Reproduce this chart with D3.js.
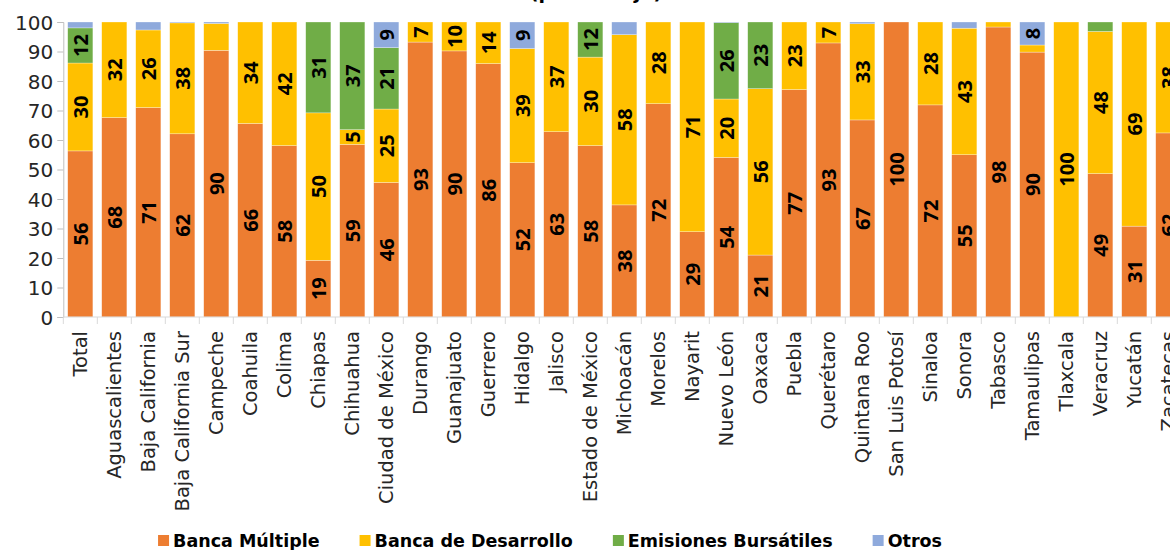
<!doctype html>
<html>
<head>
<meta charset="utf-8">
<title>Fuentes de financiamiento por entidad</title>
<style>
body { margin: 0; background: #fff; }
svg { display: block; }
</style>
</head>
<body>
<div id="chart"></div>
<script src="https://d3js.org/d3.v7.min.js"></script>
<script>
var estados = ["Total", "Aguascalientes", "Baja California", "Baja California Sur", "Campeche",
  "Coahuila", "Colima", "Chiapas", "Chihuahua", "Ciudad de México", "Durango", "Guanajuato",
  "Guerrero", "Hidalgo", "Jalisco", "Estado de México", "Michoacán", "Morelos", "Nayarit",
  "Nuevo León", "Oaxaca", "Puebla", "Querétaro", "Quintana Roo", "San Luis Potosí", "Sinaloa",
  "Sonora", "Tabasco", "Tamaulipas", "Tlaxcala", "Veracruz", "Yucatán", "Zacatecas"];

var series = ["Banca Múltiple", "Banca de Desarrollo", "Emisiones Bursátiles", "Otros"];
var colores = ["#ED7D31", "#FFC000", "#70AD47", "#8FAADC"];

var bancaMultiple   = [56.3, 67.6, 71.0, 62.1, 90.4, 65.6, 58.1, 19.2, 58.5, 45.6, 93.2, 90.2, 85.9, 52.3, 62.8, 58.1, 38.0,
                       72.3, 28.9, 54.1, 21.0, 77.1, 92.9, 66.8, 100, 71.9, 55.0, 98.3, 89.8, 0, 48.6, 30.8, 62.4];
var bancaDesarrollo = [29.8, 32.4, 26.3, 37.6, 9.1, 34.4, 41.9, 50.0, 5.0, 24.9, 6.8, 9.8, 14.1, 38.7, 37.2, 30.0, 57.7,
                       27.7, 71.1, 19.8, 56.4, 22.9, 7.1, 32.6, 0, 28.1, 42.9, 1.7, 2.4, 100, 48.2, 69.2, 37.6];
var emisiones       = [11.9, 0, 0, 0, 0, 0, 0, 30.8, 36.5, 20.8, 0, 0, 0, 0, 0, 11.9, 0,
                       0, 0, 25.9, 22.6, 0, 0, 0, 0, 0, 0, 0, 0, 0, 3.2, 0, 0];
var otros           = [2.0, 0, 2.7, 0.3, 0.5, 0, 0, 0, 0, 8.7, 0, 0, 0, 9.0, 0, 0, 4.3,
                       0, 0, 0.2, 0, 0, 0, 0.6, 0, 0, 2.1, 0, 7.8, 0, 0, 0, 0];

var yTicks = [0, 10, 20, 30, 40, 50, 60, 70, 80, 90, 100];
// etiquetas que no aparecen en el original
var sinEtiqueta = ["Campeche|Banca de Desarrollo"];

var w = 1170;
var h = 550;
var plotLeft = 63.3, plotTop = 22, plotBottom = 317;
var step = 34;

var rows = estados.map(function(e, i) {
  return {estado: e, "Banca Múltiple": bancaMultiple[i], "Banca de Desarrollo": bancaDesarrollo[i],
          "Emisiones Bursátiles": emisiones[i], "Otros": otros[i]};
});

var x = d3.scaleBand().domain(estados)
  .range([plotLeft, plotLeft + step * estados.length])
  .paddingInner(0.26).paddingOuter(0.13);
var y = d3.scaleLinear().domain([0, 100]).range([plotBottom, plotTop]);
var color = d3.scaleOrdinal().domain(series).range(colores);

var svg = d3.select("#chart").append("svg").attr("width", w).attr("height", h);

// titulo (cortado arriba en el original)
svg.append("text").attr("x", 596).attr("y", -1)
  .attr("text-anchor", "middle")
  .style("font-family", "DejaVu Sans").style("font-weight", "bold").style("font-size", "19px")
  .attr("fill", "#000").text("(porcentaje)");

var stacked = d3.stack().keys(series)(rows);

var layers = svg.selectAll("g.layer").data(stacked).enter().append("g")
  .attr("class", "layer").attr("fill", function(d) { return color(d.key); });

layers.selectAll("rect").data(function(d) { return d; }).enter().append("rect")
  .attr("x", function(d) { return x(d.data.estado); })
  .attr("width", x.bandwidth())
  .attr("y", function(d) { return y(d[1]); })
  .attr("height", function(d) { return y(d[0]) - y(d[1]); })
  .attr("stroke", "#fff").attr("stroke-width", 0.5).attr("stroke-opacity", 0.6);

// etiquetas de datos
stacked.forEach(function(s) {
  svg.append("g").selectAll("text")
    .data(s.filter(function(d) {
      var v = d[1] - d[0];
      return Math.round(v) >= 5 && sinEtiqueta.indexOf(d.data.estado + "|" + s.key) < 0;
    }))
    .enter().append("text")
    .attr("transform", function(d) {
      return "translate(" + (x(d.data.estado) + x.bandwidth() / 2) + "," + y((d[0] + d[1]) / 2) + ") rotate(-90)";
    })
    .attr("text-anchor", "middle").attr("dy", "0.36em")
    .style("font-family", "Noto Sans").style("font-weight", "bold").style("font-size", "20px")
    .attr("fill", "#000")
    .text(function(d) { return Math.round(d[1] - d[0]); });
});

// eje y
var yAxis = svg.append("g").attr("transform", "translate(" + plotLeft + ",0)")
  .call(d3.axisLeft(y).tickValues(yTicks).tickSize(6).tickPadding(4));
yAxis.selectAll("path, line").attr("stroke", "#BFBFBF");
yAxis.selectAll("text").style("font-family", "DejaVu Sans").style("font-size", "20px")
  .attr("fill", "#262626").attr("dy", "0.36em");

// eje x: linea y marcas entre categorias
svg.append("line").attr("x1", plotLeft).attr("x2", x.range()[1])
  .attr("y1", plotBottom).attr("y2", plotBottom).attr("stroke", "#D9D9D9");
svg.append("g").selectAll("line").data(d3.range(estados.length + 1)).enter().append("line")
  .attr("x1", function(i) { return x.range()[0] + i * x.step(); })
  .attr("x2", function(i) { return x.range()[0] + i * x.step(); })
  .attr("y1", plotBottom).attr("y2", plotBottom + 7).attr("stroke", "#D9D9D9");

svg.append("g").selectAll("text").data(estados).enter().append("text")
  .attr("transform", function(d) { return "translate(" + (x(d) + x.bandwidth() / 2) + ",331) rotate(-90)"; })
  .attr("text-anchor", "end").attr("dy", "0.35em")
  .style("font-family", "DejaVu Sans").style("font-size", "19.5px")
  .attr("fill", "#262626")
  .text(function(d) { return d; });

// leyenda
var legend = svg.append("g");
var lx = 0;
series.forEach(function(s, i) {
  var item = legend.append("g").attr("transform", "translate(" + lx + ",0)");
  item.append("rect").attr("x", 0).attr("y", -6).attr("width", 11).attr("height", 11).attr("fill", color(s));
  var t = item.append("text").attr("x", 15).attr("dy", "0.36em")
    .style("font-family", "DejaVu Sans").style("font-weight", "bold").style("font-size", "17.5px")
    .attr("fill", "#000").text(s);
  lx += 15 + t.node().getComputedTextLength() + 40;
});
var legendWidth = lx - 40;
legend.attr("transform", "translate(" + (550 - legendWidth / 2) + ",541)");
</script>
</body>
</html>
